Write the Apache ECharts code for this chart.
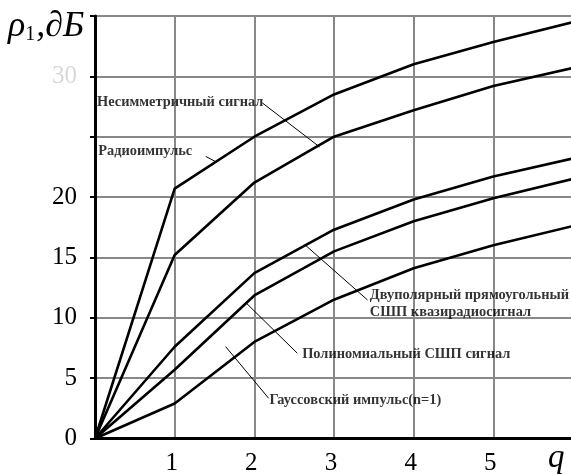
<!DOCTYPE html>
<html>
<head>
<meta charset="utf-8">
<script src="https://cdn.jsdelivr.net/npm/echarts@6/dist/echarts.min.js"></script>
<style>
html,body{margin:0;padding:0;background:#fff;}
#c{width:571px;height:474px;}
</style>
</head>
<body>
<div id="c"></div>
<script>
// ---- data ----
const qValues   = [0, 1, 2, 3, 4, 5, 6];
const nesimmetr = [0, 20.7, 25.0, 28.5, 31.0, 32.85, 34.5];
const radioimp  = [0, 15.2, 21.2, 25.0, 27.2, 29.2, 30.7];
const dvupol    = [0, 7.6, 13.7, 17.3, 19.8, 21.7, 23.2];
const polinom   = [0, 5.7, 11.85, 15.5, 18.0, 19.9, 21.5];
const gauss     = [0, 2.9, 8.0, 11.5, 14.1, 16.0, 17.6];

const xTickLabels = ['', '1', '2', '3', '4', '5', ''];
const yTickLabels = ['0', '5', '10', '15', '20', '', '30', ''];

// annotation texts and where they sit (data coords)
const annTexts  = ['Несимметричный сигнал', 'Радиоимпульс', 'Двуполярный прямоугольный\nСШП квазирадиосигнал', 'Полиномиальный СШП сигнал', 'Гауссовский импульс(n=1)'];
const annAnchor = [[0.025, 27.87], [0.04, 23.8], [3.45, 11.2], [2.60, 7.0], [2.19, 3.19]];
const leaderFrom = [[2.10, 27.8], [1.39, 23.37], [2.65, 15.96], [1.90, 11.21], [1.64, 7.61]];
const leaderTo   = [[2.82, 24.15], [1.51, 22.95], [3.42, 11.48], [2.54, 7.06], [2.18, 3.33]];

const FONT = "'Liberation Serif','Times New Roman',serif";

function curve(vals) {
  return {
    type: 'line', data: qValues.map((q, i) => [q, vals[i]]),
    symbol: 'none', silent: true,
    lineStyle: { color: '#000', width: 2.6 }, z: 5
  };
}

const series = [curve(nesimmetr), curve(radioimp), curve(dvupol), curve(polinom), curve(gauss)];

leaderFrom.forEach((p, i) => {
  series.push({
    type: 'line', data: [p, leaderTo[i]], symbol: 'none', silent: true,
    lineStyle: { color: '#000', width: 1 }, z: 6
  });
});

series.push({
  type: 'scatter', symbolSize: 0, silent: true, z: 7,
  data: annAnchor.map((p, i) => ({
    value: p,
    label: {
      show: true, position: 'right', distance: 0,
      formatter: annTexts[i],
      fontFamily: FONT, fontSize: 14.4, fontWeight: 'bold', color: '#000',
      lineHeight: 17
    }
  }))
});

const chart = echarts.init(document.getElementById('c'), null, { renderer: 'canvas' });
chart.setOption({
  animation: false,
  backgroundColor: '#fff',
  grid: { left: 95, top: 16, width: 478, height: 422.5, outerBoundsMode: 'none', containLabel: false },
  xAxis: [{
    type: 'value', min: 0, max: 6, interval: 1, position: 'bottom',
    axisLine: { show: true, onZero: false, lineStyle: { color: '#000', width: 3 } },
    axisTick: { show: false },
    splitLine: { show: true, lineStyle: { color: '#888', width: 2 } },
    axisLabel: {
      margin: 12, fontFamily: FONT, fontSize: 25, color: '#000',
      padding: [0, 6, 0, 0],
      formatter: v => xTickLabels[Math.round(v)] || ''
    }
  }, {
    type: 'value', min: 0, max: 6, interval: 1, position: 'top',
    axisLine: { show: true, lineStyle: { color: '#000', width: 2.5 } },
    axisTick: { show: false }, axisLabel: { show: false }, splitLine: { show: false }
  }],
  yAxis: [{
    type: 'value', min: 0, max: 35, interval: 5, position: 'left',
    axisLine: { show: true, onZero: false, lineStyle: { color: '#000', width: 3 } },
    axisTick: { show: false },
    splitLine: { show: true, lineStyle: { color: '#888', width: 2 } },
    axisLabel: {
      margin: 18, fontFamily: FONT, fontSize: 25, color: '#000',
      formatter: v => {
        const t = yTickLabels[Math.round(v / 5)] || '';
        return v === 30 ? '{f|' + t + '}' : t;
      },
      rich: { f: { fontFamily: FONT, fontSize: 25, color: '#d8d8d8' } }
    }
  }, {
    type: 'value', min: 0, max: 35, interval: 5, position: 'right',
    axisLine: { show: true, lineStyle: { color: '#000', width: 2 } },
    axisTick: { show: true, inside: true, length: 5, lineStyle: { color: '#000', width: 2 } },
    axisLabel: { show: false }, splitLine: { show: false }
  }],
  graphic: [{
    type: 'text', left: 8, top: 9, z: 10,
    style: {
      text: '{a|ρ}{s|1}{a|,∂Б}',
      rich: {
        a: { fontFamily: FONT, fontStyle: 'italic', fontSize: 36, fill: '#000' },
        s: { fontFamily: FONT, fontSize: 20, fill: '#000', verticalAlign: 'bottom', padding: [0, 1, 0, 0] }
      }
    }
  }, {
    type: 'text', left: 548, top: 442, z: 10,
    style: { text: 'q', fontFamily: FONT, fontStyle: 'italic', fontSize: 33, fill: '#000' }
  }],
  series: series
});
</script>
</body>
</html>
